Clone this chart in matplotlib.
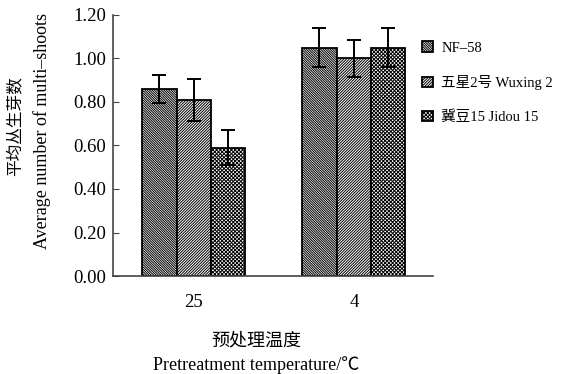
import numpy as np
import matplotlib
matplotlib.use("Agg")
from matplotlib import pyplot as plt

plt.rcParams['font.family'] = ['Liberation Serif', 'Noto Sans CJK SC', 'DejaVu Sans']
plt.rcParams['hatch.linewidth'] = 0.7

### data ###
temps = ["25", "4"]
series = ["NF–58", "五星2号 Wuxing 2", "冀豆15 Jidou 15"]
means = [[0.86, 0.81, 0.59],
         [1.05, 1.00, 1.05]]
errs = [[0.063, 0.097, 0.08],
        [0.09, 0.083, 0.09]]
yticks = [0.0, 0.2, 0.4, 0.6, 0.8, 1.0, 1.2]

hatches = ["\\" * 14, "/" * 12, "x" * 9]

fig = plt.figure(figsize=(5.63, 3.74), dpi=100)
ax = fig.add_axes([0.2007, 0.262, 0.5684, 0.698])

w = 1.0
centers = np.array([0.0, 4.65])
for i, name in enumerate(series):
    vals = [m[i] for m in means]
    ee = [e[i] for e in errs]
    ax.bar(centers + (i - 1) * w, vals, width=w, facecolor="white",
           edgecolor="black", hatch=hatches[i], linewidth=1.3, label=name,
           yerr=ee, error_kw=dict(ecolor="black", elinewidth=1.4,
                                  capsize=5, capthick=1.4))

ax.set_xlim(-2.35, 6.95)
ax.set_ylim(0, 1.2)
ax.set_yticks(yticks)
ax.set_yticklabels(["%.2f" % t for t in yticks], fontsize=13.5)
ax.set_xticks(centers)
ax.set_xticklabels(temps, fontsize=13.5)
ax.tick_params(axis="y", direction="in", length=4, color="#444444", pad=5)
ax.tick_params(axis="x", length=0, pad=13)
ax.spines["top"].set_visible(False)
ax.spines["right"].set_visible(False)
for s in ["left", "bottom"]:
    ax.spines[s].set_color("#444444")
    ax.spines[s].set_linewidth(1.2)

fig.text(0.027, 1 - 126 / 374, "平均丛生芽数", rotation=90, ha="center",
         va="center", fontsize=12)
fig.text(0.0746, 0.65, "Average number of multi–shoots", rotation=90,
         ha="center", va="center", fontsize=13)
fig.text(0.455, 1 - 341 / 374, "预处理温度", ha="center", va="center",
         fontsize=13)
fig.text(0.455, 1 - 365 / 374, "Pretreatment temperature/℃", ha="center",
         va="center", fontsize=13)

fig.legend(loc="upper left", bbox_to_anchor=(0.727, 0.925), frameon=False,
           fontsize=10.5, handlelength=0.75, handleheight=0.75,
           handletextpad=0.55, labelspacing=1.4)

fig.savefig("out.png", dpi=100)
